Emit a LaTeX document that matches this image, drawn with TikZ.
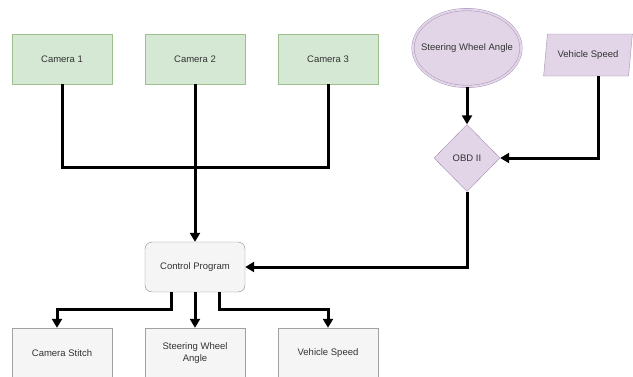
\documentclass[tikz,border=0pt]{standalone}
\usepackage{fontspec}
\setmainfont{Liberation Sans}
\usetikzlibrary{shapes.geometric,arrows.meta,positioning,calc}

\definecolor{camfill}{HTML}{D5E8D4}
\definecolor{camline}{HTML}{9DC08E}
\definecolor{obdfill}{HTML}{E1D5E7}
\definecolor{obdline}{HTML}{A58CB3}
\definecolor{boxfill}{HTML}{F5F5F5}
\definecolor{boxline}{HTML}{8A8A8A}

\begin{document}
\begin{tikzpicture}[x=1pt,y=-1pt,
  every node/.style={font=\fontsize{9.5}{11.5}\selectfont,text=black!80},
  camera/.style={rectangle,draw=camline,fill=camfill,minimum width=100pt,minimum height=50pt},
  program/.style={rectangle,rounded corners=7pt,draw=boxline,fill=boxfill,minimum width=100pt,minimum height=50pt},
  result/.style={rectangle,draw=boxline!80,fill=boxfill,minimum width=100pt,minimum height=50pt,align=center},
  wheelsensor/.style={ellipse,draw=obdline,fill=obdfill,double=obdfill,double distance=2pt,minimum width=108pt,minimum height=77pt,inner xsep=-10pt,inner ysep=0pt},
  speedsensor/.style={trapezium,trapezium left angle=72,trapezium right angle=108,trapezium stretches=true,draw=obdline,fill=obdfill,minimum width=89pt,minimum height=42pt,inner sep=0pt},
  decision/.style={diamond,draw=obdline,fill=obdfill,minimum width=66pt,minimum height=67pt,inner sep=0pt},
  wire/.style={line width=3pt},
  feed/.style={wire,-{Triangle[width=10pt,length=9pt]}}]
  \useasboundingbox (0,0) rectangle (633,376);

  % inputs
  \node[camera] (cam1) at (62,59) {Camera 1};
  \node[camera] (cam2) at (195,59) {Camera 2};
  \node[camera] (cam3) at (328,59) {Camera 3};
  \node[wheelsensor] (wheel) at (467,48) {Steering Wheel Angle};
  \node[speedsensor] (speed) at (588,55) {Vehicle Speed};
  \node[decision] (obd) at (467,158) {OBD II};
  \coordinate (merge) at (195,167);

  % control and outputs
  \node[program] (ctrl) at (195,267) {Control Program};
  \node[result] (stitch) at (62,353) {Camera Stitch};
  \node[result] (angleout) at (195,353) {Steering Wheel\\Angle};
  \node[result] (speedout) at (328,353) {Vehicle Speed};

  \draw[wire] (cam1.south) |- (merge);
  \draw[wire] (cam3.south) |- (merge);
  \draw[feed] (cam2.south) -- (ctrl.north);
  \draw[feed] (wheel.south) -- (obd.north);
  \draw[feed] ([xshift=10pt]speed.south) |- (obd.east);
  \draw[feed] (obd.south) |- (ctrl.east);
  \draw[feed] ([xshift=-24pt]ctrl.south) -- ++(0,17) -| ([xshift=-5pt]stitch.north);
  \draw[feed] (ctrl.south) -- (angleout.north);
  \draw[feed] ([xshift=24pt]ctrl.south) -- ++(0,17) -| (speedout.north);
\end{tikzpicture}
\end{document}
